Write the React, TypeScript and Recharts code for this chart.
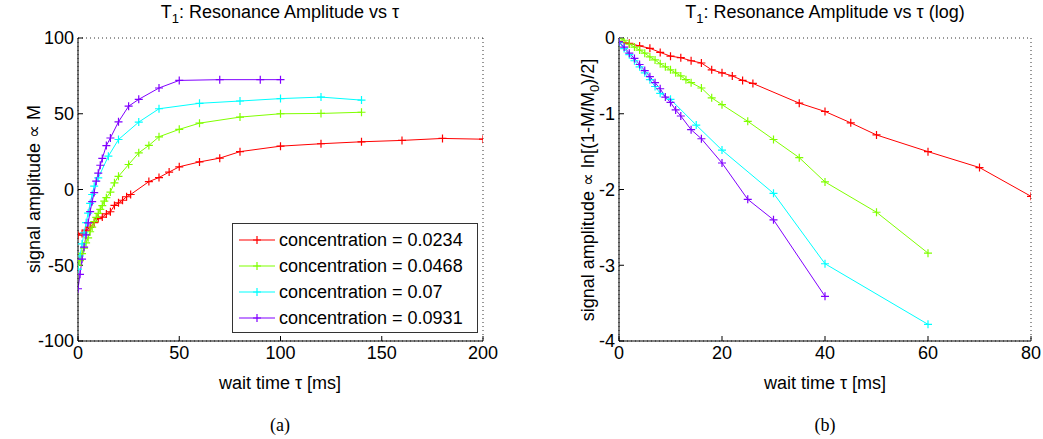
import React from 'react';
import { LineChart, Line, XAxis, YAxis, CartesianGrid, Legend } from 'recharts';

// ---------- data ----------
const seriesNames = ['concentration = 0.0234', 'concentration = 0.0468', 'concentration = 0.07', 'concentration = 0.0931'];
const seriesColors = ['#ff0000', '#80ff00', '#00ffff', '#8000ff'];

// wait times (ms)
const redT = [0, 2, 4, 6, 8, 10, 12, 14, 16, 18, 20, 22, 24, 26, 35, 40, 45, 50, 60, 70, 80, 100, 120, 140, 160, 180, 200];
const greenT = [0, 1, 2, 3, 4, 5, 6, 7, 8, 9, 10, 11, 12, 13, 14, 16, 18, 20, 25, 30, 35, 40, 50, 60, 80, 100, 120, 140];
const cyanT = [0, 1, 2, 3, 4, 5, 6, 7, 8, 10, 15, 20, 30, 40, 60, 80, 100, 120, 140];
const purpleT = [0, 1, 2, 3, 4, 5, 6, 7, 8, 9, 10, 11, 12, 14, 16, 20, 25, 30, 40, 50, 70, 90, 100];

// (a) signal amplitude M
const redM = [-30.2, -29, -26.8, -25, -21.9, -19.2, -18.2, -16.1, -14.7, -10.5, -8.8, -7.1, -4.8, -3.3, 5.2, 7.9, 11.5, 15, 18.2, 20.7, 25, 28.6, 30.2, 31.5, 32.4, 33.7, 33.2];
const greenM = [-50, -47, -42.3, -38.7, -35.2, -31.9, -27.9, -24.9, -21.2, -18.4, -15.7, -13.1, -10.7, -7.7, -5.4, -1.7, 4.4, 8.7, 16.5, 24.2, 29.1, 34.8, 39.7, 43.8, 47.8, 50, 50.2, 51];
const cyanM = [-52.5, -43.9, -35.9, -28.6, -21.9, -15.6, -9.2, -3.3, 2.2, 7.7, 22, 33, 44.5, 53.3, 56.9, 58.4, 60, 61, 59];
const purpleM = [-65.5, -56, -46, -38, -30, -22, -14.6, -8, -2, 5.5, 10.8, 16, 20.5, 29, 34, 44.7, 55, 59.5, 67, 72, 72.5, 72.5, 72.5];

// (b) ln[(1-M/M0)/2]
const redLog = [-0.05, -0.07, -0.105, -0.136, -0.19, -0.24, -0.26, -0.3, -0.33, -0.42, -0.46, -0.5, -0.56, -0.6, -0.86, -0.97, -1.12, -1.28, -1.5, -1.71, -2.09];
const greenLog = [0, -0.03, -0.08, -0.12, -0.16, -0.2, -0.25, -0.29, -0.34, -0.38, -0.42, -0.46, -0.5, -0.55, -0.59, -0.66, -0.79, -0.88, -1.1, -1.34, -1.58, -1.9, -2.3, -2.84];
const cyanLog = [-0.06, -0.14, -0.22, -0.3, -0.38, -0.46, -0.55, -0.64, -0.73, -0.81, -1.15, -1.48, -2.05, -2.98, -3.78];
const purpleLog = [-0.05, -0.12, -0.2, -0.27, -0.35, -0.43, -0.51, -0.59, -0.67, -0.78, -0.85, -0.95, -1.03, -1.21, -1.33, -1.65, -2.13, -2.4, -3.41];

// ticks
const xTicksA = [0, 50, 100, 150, 200];
const yTicksA = [-100, -50, 0, 50, 100];
const xTicksB = [0, 20, 40, 60, 80];
const yTicksB = [-4, -3, -2, -1, 0];

// ---------- helpers ----------
const rows = (t: number[], v: number[]) => v.map((y, i) => ({ t: t[i], v: y }));

const dataA = [rows(redT, redM), rows(greenT, greenM), rows(cyanT, cyanM), rows(purpleT, purpleM)];
const dataB = [rows(redT, redLog), rows(greenT, greenLog), rows(cyanT, cyanLog), rows(purpleT, purpleLog)];

const FONT = '"Liberation Sans", Arial, Helvetica, sans-serif';
const tickStyle = { fontSize: 18, fill: '#000', fontFamily: FONT };
const GRID = '#333';

const plusDot = (color: string) => (props: any) => {
  const { cx, cy, index } = props;
  if (cx == null || cy == null || isNaN(cx) || isNaN(cy)) return <g key={`d${index}`} />;
  return (
    <path
      key={`d${index}`}
      d={`M${cx - 4},${cy}H${cx + 4}M${cx},${cy - 4}V${cy + 4}`}
      stroke={color}
      strokeWidth={1.2}
      fill="none"
    />
  );
};

const LegendBox = () => (
  <div
    style={{
      width: 246,
      height: 110,
      boxSizing: 'border-box',
      border: '1px solid #333',
      background: '#fff',
      paddingTop: 3,
      fontFamily: FONT,
      fontSize: 18,
      color: '#000',
    }}
  >
    {seriesNames.map((n, i) => (
      <div key={n} style={{ display: 'flex', alignItems: 'center', height: 26 }}>
        <svg width={46} height={20} style={{ display: 'block' }}>
          <line x1={6} y1={10} x2={42} y2={10} stroke={seriesColors[i]} strokeWidth={1.2} />
          <path d="M24,6V14M20,10H28" stroke={seriesColors[i]} strokeWidth={1.2} />
        </svg>
        <span style={{ whiteSpace: 'nowrap' }}>{n}</span>
      </div>
    ))}
  </div>
);

const ChartA = () => (
  <LineChart width={520} height={439} margin={{ top: 38, right: 37, bottom: 68, left: 38 }}>
    <CartesianGrid stroke={GRID} strokeDasharray="1 3" />
    <XAxis
      xAxisId="main"
      dataKey="t"
      type="number"
      domain={[0, 200]}
      ticks={xTicksA}
      allowDataOverflow
      height={30}
      tick={tickStyle}
      tickSize={-5}
      tickMargin={10}
      stroke="#000"
    />
    <XAxis xAxisId="top" orientation="top" type="number" domain={[0, 200]} ticks={xTicksA} height={0} tick={false} tickSize={-5} stroke="#000" />
    <YAxis
      yAxisId="main"
      type="number"
      domain={[-100, 100]}
      ticks={yTicksA}
      allowDataOverflow
      width={40}
      tick={tickStyle}
      tickSize={-5}
      tickMargin={9}
      stroke="#000"
    />
    <YAxis yAxisId="right" orientation="right" type="number" domain={[-100, 100]} ticks={yTicksA} width={0} tick={false} tickSize={-5} stroke="#000" />
    {dataA.map((d, i) => (
      <Line
        key={seriesNames[i]}
        xAxisId="main"
        yAxisId="main"
        data={d}
        dataKey="v"
        name={seriesNames[i]}
        type="linear"
        stroke={seriesColors[i]}
        strokeWidth={1}
        dot={plusDot(seriesColors[i])}
        activeDot={false}
        isAnimationActive={false}
      />
    ))}
    <Legend
      layout="vertical"
      align="center"
      verticalAlign="middle"
      wrapperStyle={{ position: 'absolute', left: 232, top: 223, width: 246, height: 110 }}
      content={() => <LegendBox />}
    />
  </LineChart>
);

const ChartB = () => (
  <LineChart width={523} height={439} margin={{ top: 38, right: 12, bottom: 68, left: 59 }}>
    <CartesianGrid stroke={GRID} strokeDasharray="1 3" />
    <XAxis
      xAxisId="main"
      dataKey="t"
      type="number"
      domain={[0, 80]}
      ticks={xTicksB}
      allowDataOverflow
      height={30}
      tick={tickStyle}
      tickSize={-5}
      tickMargin={10}
      stroke="#000"
    />
    <XAxis xAxisId="top" orientation="top" type="number" domain={[0, 80]} ticks={xTicksB} height={0} tick={false} tickSize={-5} stroke="#000" />
    <YAxis
      yAxisId="main"
      type="number"
      domain={[-4, 0]}
      ticks={yTicksB}
      allowDataOverflow
      width={40}
      tick={tickStyle}
      tickSize={-5}
      tickMargin={9}
      stroke="#000"
    />
    <YAxis yAxisId="right" orientation="right" type="number" domain={[-4, 0]} ticks={yTicksB} width={0} tick={false} tickSize={-5} stroke="#000" />
    {dataB.map((d, i) => (
      <Line
        key={seriesNames[i]}
        xAxisId="main"
        yAxisId="main"
        data={d}
        dataKey="v"
        name={seriesNames[i]}
        type="linear"
        stroke={seriesColors[i]}
        strokeWidth={1}
        dot={plusDot(seriesColors[i])}
        activeDot={false}
        isAnimationActive={false}
      />
    ))}
  </LineChart>
);

const Texts = () => (
  <svg width={1043} height={439} style={{ position: 'absolute', left: 0, top: 0, pointerEvents: 'none' }}>
    <g fontFamily={FONT} fontSize={18} fill="#000">
      <text x={280} y={18} textAnchor="middle">
        T<tspan dy={5} fontSize={13}>1</tspan>
        <tspan dy={-5}>: Resonance Amplitude vs τ</tspan>
      </text>
      <text x={825} y={18} textAnchor="middle">
        T<tspan dy={5} fontSize={13}>1</tspan>
        <tspan dy={-5}>: Resonance Amplitude vs τ (log)</tspan>
      </text>
      <text x={280} y={389} textAnchor="middle">wait time τ [ms]</text>
      <text x={825} y={389} textAnchor="middle">wait time τ [ms]</text>
      <text transform="translate(40,189) rotate(-90)" textAnchor="middle">signal amplitude ∝ M</text>
      <text transform="translate(594,190) rotate(-90)" textAnchor="middle">
        signal amplitude ∝ ln[(1-M/M<tspan dy={5} fontSize={13}>0</tspan>
        <tspan dy={-5}>)/2]</tspan>
      </text>
    </g>
    <g fontFamily='"Liberation Serif", "DejaVu Serif", serif' fontSize={18} fill="#000">
      <text x={280} y={431} textAnchor="middle">(a)</text>
      <text x={825} y={431} textAnchor="middle">(b)</text>
    </g>
  </svg>
);

export default function App() {
  return (
    <div style={{ position: 'absolute', left: 0, top: 0, width: 1043, height: 439, background: '#fff', overflow: 'hidden' }}>
      <div style={{ position: 'absolute', left: 0, top: 0 }}>
        <ChartA />
      </div>
      <div style={{ position: 'absolute', left: 520, top: 0 }}>
        <ChartB />
      </div>
      <Texts />
    </div>
  );
}
